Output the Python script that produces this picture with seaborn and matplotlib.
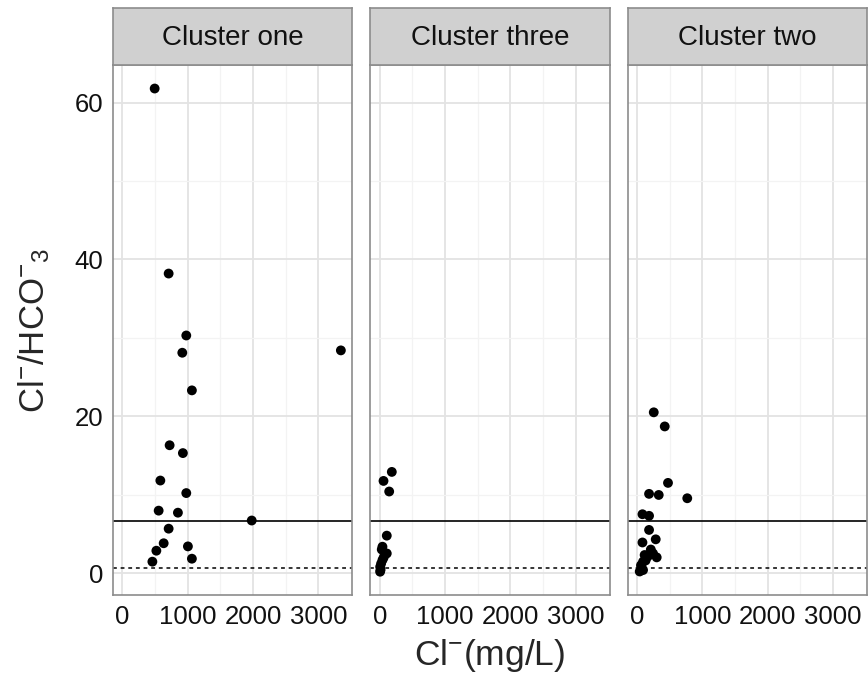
import numpy as np
import pandas as pd
import matplotlib
matplotlib.use("Agg")
import matplotlib.pyplot as plt
import seaborn as sns

# data
clusters = ["Cluster one", "Cluster three", "Cluster two"]

cl_one = [493, 707, 977, 916, 3344, 1063, 722, 925, 580, 977, 554, 849, 1979,
          707, 631, 519, 1002, 1063, 458]
ratio_one = [61.8, 38.2, 30.3, 28.1, 28.4, 23.3, 16.3, 15.3, 11.8, 10.2, 7.96,
             7.7, 6.7, 5.66, 3.8, 2.85, 3.4, 1.83, 1.45]

cl_three = [184, 57, 144, 107, 41, 107, 41, 6, 5, 30, 60, 20, 12]
ratio_three = [12.9, 11.75, 10.4, 4.77, 3.36, 2.5, 1.66, 0.8, 0.17, 3.0, 2.0, 1.2, 0.4]

cl_two = [255, 423, 473, 183, 331, 768, 82, 183, 183, 285, 82, 244, 162, 91, 67,
          91, 300, 115, 60, 130, 210, 40]
ratio_two = [20.5, 18.7, 11.5, 10.1, 9.96, 9.54, 7.5, 7.3, 5.5, 4.3, 3.9, 2.5,
             2.1, 1.45, 0.8, 0.38, 2.0, 2.3, 1.0, 1.6, 3.0, 0.2]

mean_line = 6.7
ref_line = 0.6

df = pd.concat([
    pd.DataFrame({"cluster": clusters[0], "cl": cl_one, "ratio": ratio_one}),
    pd.DataFrame({"cluster": clusters[1], "cl": cl_three, "ratio": ratio_three}),
    pd.DataFrame({"cluster": clusters[2], "cl": cl_two, "ratio": ratio_two}),
])

sns.set_style("white")
plt.rcParams["font.family"] = ["Liberation Sans", "DejaVu Sans"]
plt.rcParams["mathtext.fontset"] = "custom"
plt.rcParams["mathtext.rm"] = "Liberation Sans"
plt.rcParams["mathtext.it"] = "Liberation Sans"

fig, axes = plt.subplots(1, 3, figsize=(8.68, 6.82), dpi=100, sharey=True)
fig.subplots_adjust(left=113 / 868, right=867 / 868, top=1 - 65 / 682,
                    bottom=1 - 595 / 682, wspace=0.075)

for ax, name in zip(axes, clusters):
    sub = df[df["cluster"] == name]
    ax.set_axisbelow(True)
    sns.scatterplot(data=sub, x="cl", y="ratio", ax=ax, color="black",
                    s=50, edgecolor="none", zorder=3)
    ax.axhline(mean_line, color="black", lw=1.2, zorder=2)
    ax.axhline(ref_line, color="black", lw=1.1, ls=(0, (2.5, 2.5)), zorder=2)

    ax.set_xlim(-145, 3520)
    ax.set_ylim(-2.8, 64.8)
    ax.set_xticks([0, 1000, 2000, 3000])
    ax.set_xticks([500, 1500, 2500], minor=True)
    ax.set_yticks([0, 20, 40, 60])
    ax.set_yticks([10, 30, 50], minor=True)
    ax.grid(True, which="major", color="#E3E3E3", lw=1.3)
    ax.grid(True, which="minor", color="#F3F3F3", lw=0.9)
    for sp in ax.spines.values():
        sp.set_color("#8C8C8C")
        sp.set_linewidth(1.2)
    ax.tick_params(axis="both", which="major", length=5, width=1.1,
                   color="#333333", labelsize=18.5, labelcolor="#111111", pad=2)
    ax.tick_params(axis="both", which="minor", length=0)
    ax.set_xlabel("")
    ax.set_ylabel("")

    # facet strip
    pos = ax.get_position()
    sax = fig.add_axes([pos.x0, pos.y1, pos.width, 57 / 682])
    sax.set_facecolor("#D0D0D0")
    sax.set_xticks([])
    sax.set_yticks([])
    for sp in sax.spines.values():
        sp.set_color("#8C8C8C")
        sp.set_linewidth(1.2)
    sax.text(0.5, 0.47, name, ha="center", va="center", fontsize=20,
             color="#111111", transform=sax.transAxes)

for ax in axes[1:]:
    ax.tick_params(axis="y", which="both", left=False, labelleft=False)

fig.text((113 + 867) / 2 / 868, 1 - 655 / 682, r"Cl$^{-}$(mg/L)",
         ha="center", va="center", fontsize=25.5)
fig.text(34 / 868, 1 - 330 / 682, r"Cl$^{-}$/HCO$^{-}$$_{3}$",
         ha="center", va="center", rotation=90, fontsize=25)

fig.savefig("out.png", dpi=100)
